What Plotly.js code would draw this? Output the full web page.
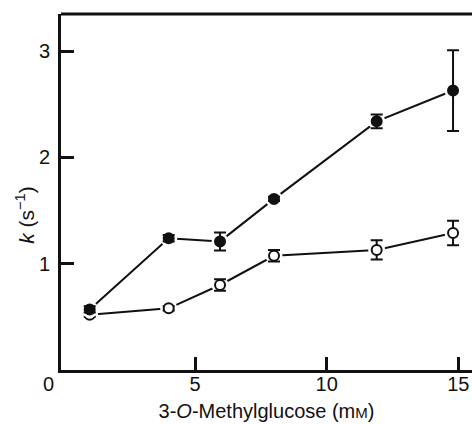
<!DOCTYPE html>
<html><head><meta charset="utf-8">
<script src="https://cdn.plot.ly/plotly-3.0.1.min.js"></script>
<style>html,body{margin:0;padding:0;background:#fff}</style>
</head><body>
<div id="chart" style="width:472px;height:424px"></div>
<script>
const conc = [1.0, 4.0, 5.95, 8.0, 11.9, 14.8];
const kFilled = [0.57, 1.24, 1.21, 1.61, 2.34, 2.63];
const errFilled = [0.03, 0.03, 0.085, 0.02, 0.065, 0.38];
const kOpen = [0.52, 0.58, 0.80, 1.075, 1.13, 1.29];
const errOpen = [0.02, 0.02, 0.055, 0.055, 0.09, 0.115];
const xTicks = [5, 10, 15];
const yTicks = [1, 2, 3];

const ink = '#111';
function series(y, err, filled) {
  return [
    {x: conc, y: y, mode: 'lines', line: {color: ink, width: 2}, hoverinfo: 'skip'},
    {x: conc, y: y, mode: 'markers', marker: {size: 17, color: '#fff', line: {width: 0}}, hoverinfo: 'skip'},
    {x: conc, y: y, mode: 'markers',
     error_y: {type: 'data', array: err, visible: true, color: ink, thickness: 2, width: 6},
     marker: {size: 10, symbol: 'circle', color: filled ? ink : '#fff', line: {color: ink, width: 2}}}
  ];
}
const data = [...series(kOpen, errOpen, false), ...series(kFilled, errFilled, true)];

const layout = {
  width: 472, height: 424,
  margin: {l: 61, r: 0, t: 14, b: 54},
  showlegend: false,
  paper_bgcolor: '#fff', plot_bgcolor: '#fff',
  font: {family: 'Liberation Sans, Arial, sans-serif', color: ink},
  xaxis: {
    range: [-0.09, 15.52], showgrid: false, zeroline: false,
    showline: true, linewidth: 3, linecolor: ink,
    ticks: 'inside', ticklen: 13, tickwidth: 3, tickcolor: ink,
    tickvals: xTicks, ticktext: xTicks.map(String),
    tickfont: {size: 20, color: ink}, ticklabelstandoff: -6,
    title: {text: '3-<i>O</i>-Methylglucose (m<span style="font-size:15px">M</span>)', font: {size: 20, color: ink}, standoff: 10}
  },
  yaxis: {
    range: [0, 3.35], showgrid: false, zeroline: false,
    showline: true, linewidth: 3, linecolor: ink,
    ticks: 'inside', ticklen: 13, tickwidth: 3, tickcolor: ink,
    tickvals: yTicks, ticktext: yTicks.map(String),
    tickfont: {size: 20, color: ink}, ticklabelstandoff: 4
  },
  shapes: [
    {type: 'line', xref: 'paper', yref: 'paper', x0: 0, x1: 1, y0: 1, y1: 1, line: {color: ink, width: 3}}
  ],
  annotations: [
    {text: '0', x: 0, xref: 'x', y: 0, yref: 'paper', xshift: -15, yshift: -1,
     yanchor: 'top', xanchor: 'center', showarrow: false, font: {size: 20, color: ink}},
    {text: '<i>k</i> (s<sup>−1</sup>)', x: 0, xref: 'paper', y: 1.46, yref: 'y', xshift: -36,
     xanchor: 'center', yanchor: 'middle', textangle: -90, showarrow: false, font: {size: 21, color: ink}}
  ]
};
Plotly.newPlot('chart', data, layout, {displayModeBar: false, staticPlot: true});
</script>
</body></html>
